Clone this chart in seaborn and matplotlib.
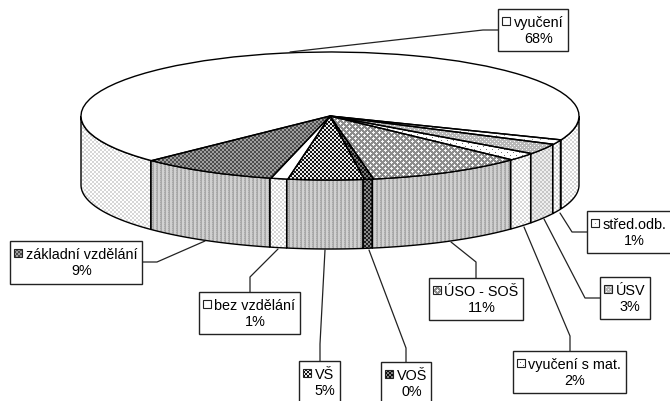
import numpy as np
import seaborn as sns
import matplotlib
matplotlib.use("Agg")
import matplotlib.pyplot as plt
from matplotlib.patches import Rectangle
from matplotlib.transforms import Affine2D

# order: counter clockwise from the right front of the pie
categories = ["vyučení", "základní vzdělání", "bez vzdělání", "VŠ", "VOŠ",
              "ÚSO - SOŠ", "vyučení s mat.", "ÚSV", "střed.odb."]
values = [68.3, 8.9, 1.1, 4.9, 0.6, 10.2, 2.0, 2.7, 1.2]
percent_labels = ["68%", "9%", "1%", "5%", "0%", "11%", "2%", "3%", "1%"]

W, H = 670, 402
CX, CY, RX, RY, DEPTH = 330, 117, 249, 64, 69
START = -21.9


def checker(a, b, cell=2):
	t = np.full((cell * 2, cell * 2), float(a))
	t[:cell, :cell] = b
	t[cell:, cell:] = b
	return t


def dots(bg, dot, period=6):
	t = np.full((period, period), float(bg))
	t[0, 0] = dot
	t[period // 2, period // 2] = dot
	return t


def plus(bg, fg):
	t = np.full((6, 6), float(bg))
	for r, c in [(1, 1), (0, 1), (2, 1), (1, 0), (1, 2), (4, 4), (3, 4), (5, 4), (4, 3), (4, 5)]:
		t[r, c] = fg
	return t


def stripes(a, b):
	t = np.full((2, 4), float(a))
	t[:, 2:] = b
	t[0, 0] = (a + b) / 2
	return t


top_tiles = [np.ones((2, 2)), checker(0.3, 0.62), np.ones((2, 2)), checker(0.08, 0.92, 2),
             checker(0.05, 0.5), plus(0.55, 0.97), dots(1.0, 0.45, 6),
             dots(0.72, 0.98, 4), dots(1.0, 0.6, 8)]
wall_tiles = [checker(0.84, 1.0), stripes(0.66, 0.82), checker(0.84, 1.0), stripes(0.66, 0.82),
              checker(0.12, 0.55), stripes(0.66, 0.82), checker(0.84, 1.0),
              checker(0.78, 0.93), checker(0.84, 1.0)]

# box: left, top, right, bottom; leader: from box to pie
boxes = [(498, 10, 568, 52), (10, 242, 142, 285), (199, 293, 300, 335), (299, 362, 340, 410),
         (381, 363, 431, 410), (429, 279, 523, 321), (513, 352, 626, 394),
         (600, 278, 650, 320), (587, 212, 675, 254)]
leaders = [[(498, 31), (483, 31), (290, 53)], [(142, 263), (157, 263), (205, 242)],
           [(250, 293), (250, 278), (278, 250)], [(320, 362), (320, 345), (325, 251)],
           [(406, 363), (406, 349), (369, 251)], [(476, 279), (476, 263), (451, 243)],
           [(570, 352), (570, 337), (524, 228)], [(600, 299), (585, 299), (544, 220)],
           [(587, 233), (572, 233), (560, 214)]]

sns.set_theme(style="white")
plt.rcParams['font.family'] = ['Liberation Sans', 'DejaVu Sans']

fig = plt.figure(figsize=(W / 100, H / 100), dpi=100)
ax = fig.add_axes([0, 0, 1, 1])


def textured(tile, clip, zorder):
	# tile the pattern over the figure, then cut it with the patch
	rows = H // tile.shape[0] + 1
	cols = W // tile.shape[1] + 1
	img = np.tile(tile, (rows, cols))[:H, :W]
	im = ax.imshow(img, cmap="gray", vmin=0, vmax=1, extent=(0, W, H, 0), aspect="auto",
		interpolation="nearest", zorder=zorder)
	im.set_clip_path(clip)
	return im


# pie top from the values
wedges, _ = ax.pie(values, startangle=START, counterclock=True, radius=1,
	wedgeprops=dict(linewidth=1.0, edgecolor="black"))
pie_trans = Affine2D().scale(RX, -RY).translate(CX, CY) + ax.transData
angles = START + np.cumsum([0] + values) * 3.6

# side walls, only the part below the middle of the ellipse is seen
for i in range(len(values)):
	for a0, a1 in [(angles[i], angles[i + 1]), (angles[i] - 360, angles[i + 1] - 360)]:
		lo = max(a0, -180)
		hi = min(a1, 0)
		if lo >= hi:
			continue
		th = np.radians(np.linspace(lo, hi, 80))
		x = CX + RX * np.cos(th)
		y = CY - RY * np.sin(th)
		poly = ax.fill(np.r_[x, x[::-1]], np.r_[y, y[::-1] + DEPTH], facecolor="none",
			edgecolor="black", linewidth=1.0, zorder=3)[0]
		textured(wall_tiles[i], poly, 2)

for i, w in enumerate(wedges):
	w.set_transform(pie_trans)
	w.set_facecolor("none")
	w.set_zorder(5)
	textured(top_tiles[i], w, 4)

# callouts
for i, name in enumerate(categories):
	lx = [p[0] for p in leaders[i]]
	ly = [p[1] for p in leaders[i]]
	ax.plot(lx, ly, color="#222222", linewidth=0.9, zorder=6)
	left, top, right, bottom = boxes[i]
	ax.add_patch(Rectangle((left, top), right - left, bottom - top, facecolor="white",
		edgecolor="#222222", linewidth=1.0, zorder=7))
	mid = top + 21
	key = (left + 4, top + 8)
	# same pixel pattern in the key, not stretched
	key_img = np.resize(np.tile(top_tiles[i], (8, 8)), (8, 8))
	ax.imshow(np.tile(top_tiles[i], (8, 8))[:8, :8], cmap="gray", vmin=0, vmax=1, aspect="auto",
		extent=(key[0], key[0] + 8, key[1] + 8, key[1]), interpolation="nearest", zorder=8)
	ax.add_patch(Rectangle(key, 8, 8, facecolor="none", edgecolor="#222222",
		linewidth=0.8, zorder=9))
	ax.text(left + 15.5, mid, name + "\n" + percent_labels[i], ha="left", va="center",
		multialignment="center", fontsize=10.4, linespacing=1.22, color="black", zorder=9)

ax.set_xlim(0, W)
ax.set_ylim(H, 0)
ax.set_aspect("auto")
ax.axis("off")
fig.savefig("out.png", dpi=100)
